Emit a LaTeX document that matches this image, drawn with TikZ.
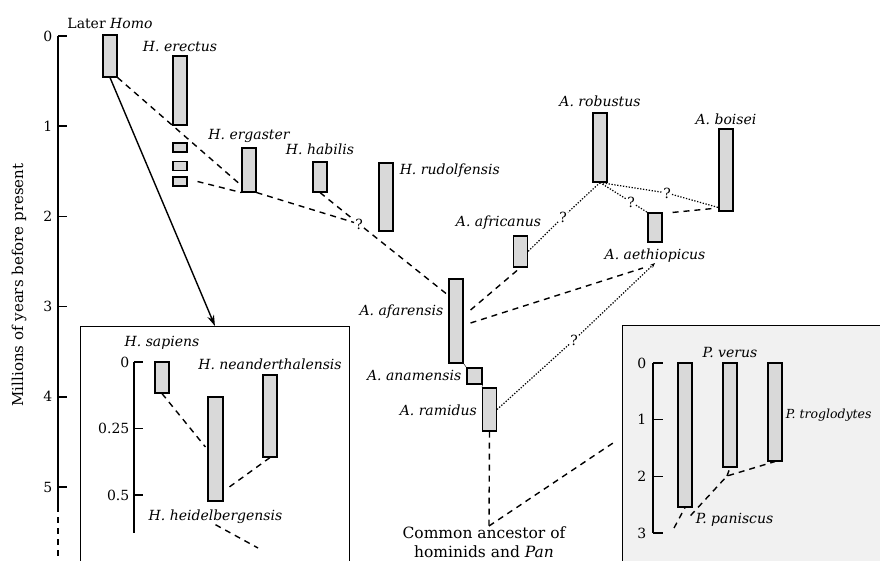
\documentclass[tikz,border=0pt]{standalone}
\usepackage{fontspec}
\setmainfont{DejaVu Serif}
\usetikzlibrary{arrows.meta,positioning}
\definecolor{barfill}{gray}{0.85}
\definecolor{panfill}{gray}{0.945}

\begin{document}
\begin{tikzpicture}[
    x=1pt, y=-1pt,
    bar/.style={draw, fill=barfill, line width=1.1pt, minimum width=14pt, inner sep=0pt},
    lab/.style={font=\fontsize{14}{16}\selectfont\itshape, inner sep=1pt},
    num/.style={font=\fontsize{14}{16}\selectfont, inner sep=1pt},
    qmark/.style={font=\fontsize{14}{16}\selectfont, inner sep=1pt},
    axis/.style={line width=1.6pt},
    link/.style={line width=1.4pt, dash pattern=on 6pt off 5pt},
    maybe/.style={line width=1.2pt, dash pattern=on 1.3pt off 1.6pt},
    inset/.style={draw, line width=0.9pt, anchor=north west, inner sep=0pt, minimum height=260pt}
  ]
  \useasboundingbox (0,0) rectangle (880,561);
  \clip (0,0) rectangle (880,561);

  % time axis
  \draw[axis] (58,36) -- (58,512);
  \draw[axis, dash pattern=on 6pt off 5pt] (58,517) -- (58,561);
  \foreach \v in {0,...,5}
    \draw[axis] (58,36+90.2*\v) -- (67,36+90.2*\v) node[num, pos=0, left=4pt] {\v};
  \node[num, rotate=90, font=\fontsize{15}{17}\selectfont] (ylab) at (19,285) {Millions of years before present};

  % insets
  \node[inset, fill=white, minimum width=269pt] (homoinset) at (80,326) {};
  \node[inset, fill=panfill, minimum width=300pt] (paninset) at (622,325) {};

  % Homo
  \node[bar, minimum height=42pt] (laterhomo) at (110,56) {};
  \node[bar, minimum height=69pt] (erectus) at (180,90.5) {};
  \node[bar, minimum height=9pt] (small1) at (180,147.5) {};
  \node[bar, minimum height=9pt] (small2) at (180,166) {};
  \node[bar, minimum height=9pt] (small3) at (180,181.5) {};
  \node[bar, minimum height=44pt] (ergaster) at (249,170) {};
  \node[bar, minimum height=30pt] (habilis) at (320,177) {};
  \node[bar, minimum height=68pt] (rudolfensis) at (386,197) {};

  \node[num, above=5pt of laterhomo] {Later \textit{Homo}};
  \node[lab, above=3pt of erectus] {H. erectus};
  \node[lab, above=4pt of ergaster] {H. ergaster};
  \node[lab, above=6pt of habilis] {H. habilis};
  \node[lab, anchor=base west] at ([xshift=5pt,yshift=-12pt]rudolfensis.north east) {H. rudolfensis};

  % Australopithecus
  \node[bar, minimum height=84pt] (afarensis) at (456,321) {};
  \node[bar, minimum height=16pt, minimum width=15pt] (anamensis) at (474.5,376) {};
  \node[bar, minimum height=43pt] (ramidus) at (489.5,409.5) {};
  \node[bar, minimum height=31pt] (africanus) at (520.5,251.5) {};
  \node[bar, minimum height=69pt] (robustus) at (600,147.5) {};
  \node[bar, minimum height=29pt] (aethiopicus) at (655,227.5) {};
  \node[bar, minimum height=82pt] (boisei) at (726,170) {};

  \node[lab, anchor=base east] at ([xshift=-4pt,yshift=6pt]afarensis.west) {A. afarensis};
  \node[lab, anchor=base east] at ([xshift=-4pt,yshift=-4pt]anamensis.west) {A. anamensis};
  \node[lab, anchor=base east] at ([xshift=-4pt,yshift=-5.5pt]ramidus.west) {A. ramidus};
  \node[lab, above=5pt of africanus, xshift=-22pt] {A. africanus};
  \node[lab, above=5pt of robustus] {A. robustus};
  \node[lab, above=3pt of boisei] {A. boisei};
  \node[lab, below=5pt of aethiopicus] (aethiolab) {A. aethiopicus};

  \node[qmark] (q1) at (359,224) {?};
  \node[qmark] (q2) at (574,340) {?};
  \node[qmark] (q3) at (563,217) {?};
  \node[qmark] (q4) at (631,202) {?};
  \node[qmark] (q5) at (667,193) {?};
  \coordinate (aethjoin) at (643,268);
  \coordinate (aethtip) at (655,263);
  \coordinate (anc) at (489,526);
  \coordinate (panlink) at (613,443);

  \draw[link] (laterhomo.south east) -- ([yshift=7pt]ergaster.south west);
  \draw[link] ([xshift=10pt]small3.east) -- (ergaster.south west);
  \draw[link] (ergaster.south east) -- (q1);
  \draw[link] (habilis.south) -- (q1);
  \draw[link] (q1) -- ([yshift=-17pt]afarensis.north west);
  \draw (afarensis.south east) -- (anamensis.north west);
  \draw (anamensis.south east) -- (ramidus.north west);
  \draw[link] ([xshift=7pt,yshift=11pt]afarensis.east) -- (africanus.south);
  \draw[link] ([xshift=7pt,yshift=-2pt]afarensis.east) -- (aethjoin);
  \draw[maybe] (ramidus.east) -- (q2);
  \draw[maybe, -{Stealth[length=5pt,width=4pt]}] (q2) -- (aethtip);
  \draw[maybe] (robustus.south) -- (q3) -- (africanus.east);
  \draw[maybe] (robustus.south) -- (q4) -- (aethiopicus.north west);
  \draw[maybe] (robustus.south) -- (q5) -- ([yshift=4pt]boisei.south west);
  \draw[link] ([xshift=10pt]aethiopicus.north east) -- ([xshift=-6pt,yshift=3pt]boisei.south west);
  \draw[link] (ramidus.south) -- (anc);
  \draw[link] (anc) -- (panlink);
  \node[num, font=\fontsize{15.5}{19}\selectfont, align=center, anchor=north, inner sep=0pt] (anclab) at (484,527)
    {Common ancestor of\\hominids and \textit{Pan}};

  \draw[line width=1.4pt, -{Stealth[length=11pt,width=7pt]}] (laterhomo.south) -- (homoinset.north);

  % recent Homo
  \draw[axis, line width=1.3pt] (134,362) -- (134,533);
  \foreach \v/\y in {0/362,0.25/428.5,0.5/495}
    \draw[axis, line width=1.3pt] (134,\y) -- (143,\y) node[num, pos=0, left=3pt] {\v};
  \node[bar, minimum height=31pt] (sapiens) at (162,377.5) {};
  \node[bar, minimum height=104pt, minimum width=15pt] (heidelberg) at (215.5,449) {};
  \node[bar, minimum height=82pt] (neander) at (270,416) {};
  \node[lab, above=11pt of sapiens] {H. sapiens};
  \node[lab, above=4pt of neander] {H. neanderthalensis};
  \node[lab, below=7pt of heidelberg] (heidellab) {H. heidelbergensis};
  \coordinate (heidelend) at (258,548);
  \draw[link] (sapiens.south) -- ([xshift=-2pt,yshift=2pt]heidelberg.west);
  \draw[link] (neander.south) -- ([xshift=3pt,yshift=-40pt]heidelberg.east);
  \draw[link] (heidellab.south) -- (heidelend);

  % Pan
  \draw[axis, line width=1.3pt] (653,363) -- (653,533);
  \foreach \v in {0,...,3}
    \draw[axis, line width=1.3pt] (653,363+56.67*\v) -- (663,363+56.67*\v) node[num, pos=0, left=5pt] {\v};
  \node[bar, minimum height=144pt] (paniscus) at (685,435) {};
  \node[bar, minimum height=104pt] (verus) at (730,415) {};
  \node[bar, minimum height=98pt] (troglodytes) at (775,412) {};
  \node[lab, above=4pt of verus] {P. verus};
  \node[lab, font=\fontsize{12.5}{15}\selectfont\itshape, anchor=base west] at ([xshift=2pt,yshift=-6pt]troglodytes.east) {P. troglodytes};
  \node[lab, anchor=base west] at ([xshift=2pt,yshift=-16pt]paniscus.south east) {P. paniscus};
  \coordinate (panroot) at (674,528);
  \coordinate (panjoin) at (727,476);
  \draw[link] (panroot) -- (paniscus.south);
  \draw[link] ([xshift=-2pt,yshift=-8pt]paniscus.south east) -- (panjoin) -- (troglodytes.south);
  \draw[link] (panjoin) -- (verus.south);
\end{tikzpicture}
\end{document}
